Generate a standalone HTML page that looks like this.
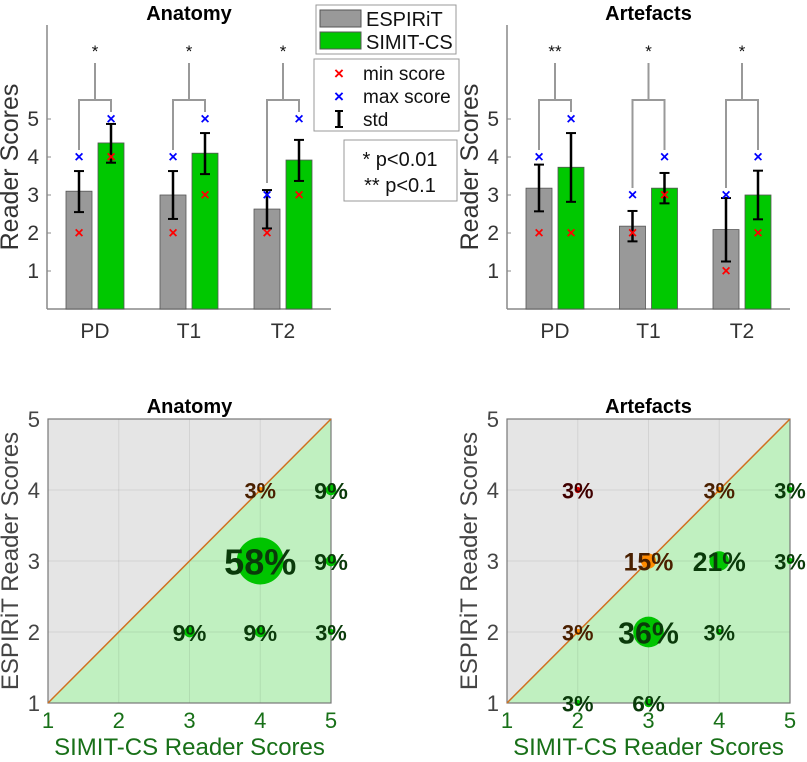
<!DOCTYPE html>
<html><head><meta charset="utf-8">
<style>
body{margin:0;background:#fff;}
svg{display:block;font-family:"Liberation Sans",Arial,sans-serif;}
</style></head>
<body>
<svg id="fig" width="807" height="762" viewBox="0 0 807 762" xmlns="http://www.w3.org/2000/svg">
<g id="layer"></g>
<g>
<rect x="316" y="5" width="140" height="49" fill="#fff" stroke="#999"/>
<rect x="320" y="10" width="41" height="17" fill="#999" stroke="#555"/>
<text x="366" y="26" font-size="20" fill="#111">ESPIRiT</text>
<rect x="320" y="32" width="41" height="17" fill="#00c800" stroke="#555"/>
<text x="366" y="49" font-size="20" fill="#111">SIMIT-CS</text>
</g>
<g>
<rect x="314" y="59" width="145" height="72" fill="#fff" stroke="#999"/>
<text x="339" y="79" font-size="17" fill="#f00" font-weight="bold" text-anchor="middle">×</text>
<text x="363" y="80" font-size="19" fill="#111">min score</text>
<text x="339" y="102" font-size="17" fill="#00f" font-weight="bold" text-anchor="middle">×</text>
<text x="363" y="103" font-size="19" fill="#111">max score</text>
<line x1="339" y1="111" x2="339" y2="127" stroke="#000" stroke-width="3"/>
<line x1="335" y1="111" x2="343" y2="111" stroke="#000" stroke-width="2"/>
<line x1="335" y1="127" x2="343" y2="127" stroke="#000" stroke-width="2"/>
<text x="363" y="126" font-size="19" fill="#111">std</text>
</g>
<g>
<rect x="344" y="140" width="113" height="61" fill="#fff" stroke="#999"/>
<text x="400" y="166" font-size="20" fill="#111" text-anchor="middle">* p&lt;0.01</text>
<text x="400" y="192" font-size="20" fill="#111" text-anchor="middle">** p&lt;0.1</text>
</g>
</svg>
<script>
const cats = ["PD","T1","T2"];
const anatEspMean = [3.1,3.0,2.63];
const anatEspLo = [2.55,2.37,2.12];
const anatEspHi = [3.63,3.63,3.13];
const anatSimMean = [4.37,4.1,3.92];
const anatSimLo = [3.85,3.55,3.37];
const anatSimHi = [4.87,4.63,4.45];
const anatEspMin = [2,2,2];
const anatEspMax = [4,4,3];
const anatSimMin = [4,3,3];
const anatSimMax = [5,5,5];
const anatSig = ["*","*","*"];
const artEspMean = [3.18,2.18,2.09];
const artEspLo = [2.57,1.78,1.25];
const artEspHi = [3.8,2.58,2.92];
const artSimMean = [3.73,3.18,3.0];
const artSimLo = [2.82,2.78,2.36];
const artSimHi = [4.63,3.58,3.64];
const artEspMin = [2,2,1];
const artEspMax = [4,3,3];
const artSimMin = [2,3,2];
const artSimMax = [5,4,4];
const artSig = ["**","*","*"];
const barTicks = [1,2,3,4,5];
const scatTicks = [1,2,3,4,5];
const anatX = [4,5,4,5,3,4,5];
const anatY = [4,4,3,3,2,2,2];
const anatPct = [3,9,58,9,9,9,3];
const artX = [2,4,5,3,4,5,2,3,4,2,3];
const artY = [4,4,4,3,3,3,2,2,2,1,1];
const artPct = [3,3,3,15,21,3,3,36,3,3,6];

const NS="http://www.w3.org/2000/svg";
const layer=document.getElementById('layer');
function mk(tag,attrs,parent,txt){const e=document.createElementNS(NS,tag);for(const k in attrs)e.setAttribute(k,attrs[k]);if(txt!==undefined)e.textContent=txt;(parent||layer).appendChild(e);return e;}

function barChart(name,x0,x1,title,em,elo,ehi,sm,slo,shi,emin,emax,smin,smax,sig){
  const g=mk('g',{});
  
  
  const y=v=>309-38*v;
  const gx=i=>x0+48+(x1-x0-48*2)/2*i;
  mk('text',{x:(x0+x1)/2,y:20,'font-size':20,'font-weight':'bold','text-anchor':'middle',fill:'#000'},g,title);
  mk('line',{x1:x0,y1:25,x2:x0,y2:309,stroke:'#888','stroke-width':1.5},g);
  mk('line',{x1:x0,y1:309,x2:x1,y2:309,stroke:'#888','stroke-width':1.5},g);
  barTicks.forEach(t=>{
    mk('line',{x1:x0,y1:y(t),x2:x0+4,y2:y(t),stroke:'#888'},g);
    mk('text',{x:x0-8,y:y(t)+7,'font-size':21,'text-anchor':'end',fill:'#333'},g,String(t));
  });
  const yl=mk('text',{x:0,y:0,'font-size':25,'text-anchor':'middle',fill:'#333',transform:`translate(${x0-29},167) rotate(-90)`},g,'Reader Scores');
  
  
  cats.forEach((c,i)=>{
    const cx=gx(i);
    mk('text',{x:cx,y:338,'font-size':21,'text-anchor':'middle',fill:'#333'},g,c);
    const series=[[cx-16,em[i],elo[i],ehi[i],emin[i],emax[i],'#999'],[cx+16,sm[i],slo[i],shi[i],smin[i],smax[i],'#00c800']];
    series.forEach(([bx,m,lo,hi,mn,mx,col],k)=>{
      const b=mk('rect',{x:bx-13,y:y(m),width:26,height:309-y(m),fill:col,stroke:'#555','stroke-width':0.8},g);
      
      
      mk('line',{x1:bx,y1:y(lo),x2:bx,y2:y(hi),stroke:'#000','stroke-width':2.5},g);
      mk('line',{x1:bx-5,y1:y(lo),x2:bx+5,y2:y(lo),stroke:'#000','stroke-width':2},g);
      mk('line',{x1:bx-5,y1:y(hi),x2:bx+5,y2:y(hi),stroke:'#000','stroke-width':2},g);
      mk('text',{x:bx,y:y(mn)+5,'font-size':16,'font-weight':'bold','text-anchor':'middle',fill:'#f00'},g,'×');
      mk('text',{x:bx,y:y(mx)+5,'font-size':16,'font-weight':'bold','text-anchor':'middle',fill:'#00f'},g,'×');
    });
    const lBot=y(Math.max(emax[i],ehi[i]))-7, rBot=y(Math.max(smax[i],shi[i]))-7;
    mk('path',{d:`M${cx-16},${lBot}V100H${cx+16}V${rBot}M${cx},100V63`,fill:'none',stroke:'#999','stroke-width':2},g);
    mk('text',{x:cx,y:57,'font-size':17,'text-anchor':'middle',fill:'#111'},g,sig[i]);
  });
}
barChart('bar-chart-anatomy',47,331,'Anatomy',anatEspMean,anatEspLo,anatEspHi,anatSimMean,anatSimLo,anatSimHi,anatEspMin,anatEspMax,anatSimMin,anatSimMax,anatSig);
barChart('bar-chart-artefacts',507,790,'Artefacts',artEspMean,artEspLo,artEspHi,artSimMean,artSimLo,artSimHi,artEspMin,artEspMax,artSimMin,artSimMax,artSig);

function scatter(name,x0,x1,title,xs,ys,ps){
  const g=mk('g',{});
  
  
  const y0=419,y1=703;
  const sx=v=>x0+(x1-x0)*(v-1)/4, sy=v=>y1-(y1-y0)*(v-1)/4;
  mk('text',{x:(x0+x1)/2,y:413,'font-size':20,'font-weight':'bold','text-anchor':'middle',fill:'#000'},g,title);
  mk('polygon',{points:`${x0},${y0} ${x1},${y0} ${x0},${y1}`,fill:'#e5e5e5'},g);
  mk('polygon',{points:`${x1},${y0} ${x1},${y1} ${x0},${y1}`,fill:'#c0f0c0'},g);
  scatTicks.forEach(t=>{
    mk('line',{x1:sx(t),y1:y0,x2:sx(t),y2:y1,stroke:'rgba(0,0,0,0.08)'},g);
    mk('line',{x1:x0,y1:sy(t),x2:x1,y2:sy(t),stroke:'rgba(0,0,0,0.08)'},g);
    mk('text',{x:x0-8,y:sy(t)+8,'font-size':22,'text-anchor':'end',fill:'#444'},g,String(t));
    mk('text',{x:sx(t),y:728,'font-size':22,'text-anchor':'middle',fill:'#187018'},g,String(t));
  });
  mk('rect',{x:x0,y:y0,width:x1-x0,height:y1-y0,fill:'none',stroke:'#777','stroke-width':1.2},g);
  mk('line',{x1:x0,y1:y1,x2:x1,y2:y0,stroke:'#d07020','stroke-width':1.5},g);
  const yt=mk('text',{x:0,y:0,'font-size':24,'text-anchor':'middle',fill:'#444',transform:`translate(${x0-30},${(y0+y1)/2}) rotate(-90)`},g,'ESPIRiT Reader Scores');
  
  
  const xt=mk('text',{x:(x0+x1)/2,y:755,'font-size':24,'text-anchor':'middle',fill:'#187018'},g,'SIMIT-CS Reader Scores');
  
  
  xs.forEach((xv,i)=>{
    const yv=ys[i],p=ps[i];
    const col=xv>yv?'#00c400':(xv===yv?'#ff8a00':'#e00000');
    const tc=xv>yv?'#0a3a0a':(xv===yv?'#4a2000':'#400000');
    const r=2+p*0.37;
    const c=mk('circle',{cx:sx(xv),cy:sy(yv),r:r,fill:col},g);
    
    
    const fs=21+p*0.26;
    mk('text',{x:sx(xv),y:sy(yv)+fs*0.38,'font-size':fs,'font-weight':'bold','text-anchor':'middle',fill:tc},g,p+'%');
  });
}
scatter('scatter-anatomy',48,331,'Anatomy',anatX,anatY,anatPct);
scatter('scatter-artefacts',507,790,'Artefacts',artX,artY,artPct);
</script>
</body></html>
